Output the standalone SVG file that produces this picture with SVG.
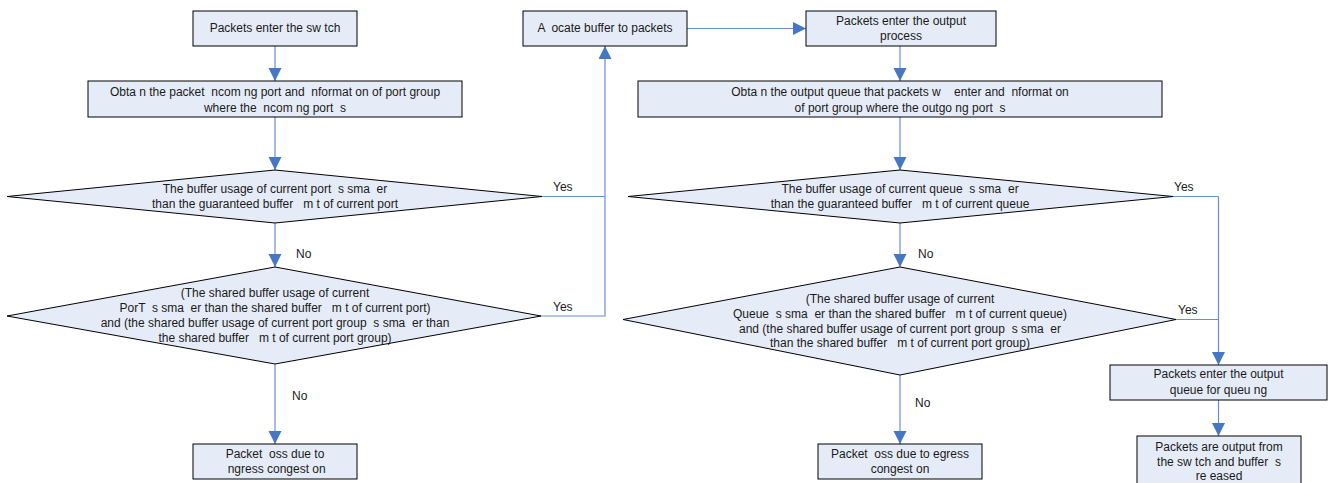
<svg xmlns="http://www.w3.org/2000/svg" width="1334" height="483" viewBox="0 0 1334 483" xml:space="preserve">
<style>
text{white-space:pre}
.n{fill:#E6ECF7;stroke:#000;stroke-width:1}
.t{font-family:"Liberation Sans",Arial,sans-serif;font-size:12px;fill:#1a1a1a;text-anchor:middle}
.l{font-family:"Liberation Sans",Arial,sans-serif;font-size:12px;fill:#1a1a1a}
.c{fill:none;stroke:#6690D0;stroke-width:1.2}
</style>
<defs>
<marker id="a" markerUnits="userSpaceOnUse" markerWidth="14" markerHeight="14" refX="13" refY="6.5" orient="auto"><path d="M0,0 L13,6.5 L0,13 z" fill="#4677C4"/></marker>
</defs>
<rect width="1334" height="483" fill="#fff"/>
<g id="connectors">
<path class="c" d="M275,46 V81" marker-end="url(#a)"/>
<path class="c" d="M275,117 V170" marker-end="url(#a)"/>
<path class="c" d="M275,222 V267" marker-end="url(#a)"/>
<path class="c" d="M275,364 V444" marker-end="url(#a)"/>
<path class="c" d="M542,196.5 H605 M541,316 H605 V46" marker-end="url(#a)"/>
<path class="c" d="M687,28.5 H806" marker-end="url(#a)"/>
<path class="c" d="M900,46 V81" marker-end="url(#a)"/>
<path class="c" d="M900,117 V170" marker-end="url(#a)"/>
<path class="c" d="M900,222 V267" marker-end="url(#a)"/>
<path class="c" d="M900,375 V444" marker-end="url(#a)"/>
<path class="c" d="M1173,196.5 H1218.5 M1176,319.5 H1218.5 M1218.5,196.5 V365" marker-end="url(#a)"/>
<path class="c" d="M1218.5,400 V436" marker-end="url(#a)"/>
</g>
<g id="labels">
<text class="l" x="553" y="191">Yes</text>
<text class="l" x="553" y="311">Yes</text>
<text class="l" x="296" y="258">No</text>
<text class="l" x="292" y="400">No</text>
<text class="l" x="1174" y="191">Yes</text>
<text class="l" x="1178" y="314">Yes</text>
<text class="l" x="918" y="258">No</text>
<text class="l" x="915" y="407">No</text>
</g>
<g id="start">
<rect class="n" x="193" y="11" width="164" height="35"/>
<text class="t" x="275" y="32">Packets enter the sw tch</text>
</g>
<g id="obtain-in">
<rect class="n" x="88" y="81" width="374" height="36"/>
<text class="t" x="275" y="96">Obta n the packet  ncom ng port and  nformat on of port group</text>
<text class="t" x="275" y="112">where the  ncom ng port  s</text>
</g>
<g id="dec-port">
<polygon class="n" points="275,170 542,196.5 275,223 7,196.5"/>
<text class="t" x="275" y="193">The buffer usage of current port  s sma  er</text>
<text class="t" x="275" y="208">than the guaranteed buffer   m t of current port</text>
</g>
<g id="dec-port-shared">
<polygon class="n" points="275,267 541,316 275,364 7,316"/>
<text class="t" x="275" y="297">(The shared buffer usage of current</text>
<text class="t" x="275" y="312">PorT  s sma  er than the shared buffer   m t of current port)</text>
<text class="t" x="275" y="327">and (the shared buffer usage of current port group  s sma  er than</text>
<text class="t" x="275" y="342">the shared buffer   m t of current port group)</text>
</g>
<g id="loss-in">
<rect class="n" x="193" y="444" width="164" height="35"/>
<text class="t" x="275" y="458">Packet  oss due to</text>
<text class="t" x="275" y="473"> ngress congest on</text>
</g>
<g id="allocate">
<rect class="n" x="523" y="11" width="164" height="35"/>
<text class="t" x="605" y="32">A  ocate buffer to packets</text>
</g>
<g id="enter-out">
<rect class="n" x="806" y="11" width="190" height="35"/>
<text class="t" x="901" y="25">Packets enter the output</text>
<text class="t" x="901" y="40">process</text>
</g>
<g id="obtain-out">
<rect class="n" x="638" y="81" width="524" height="36"/>
<text class="t" x="900" y="96">Obta n the output queue that packets w    enter and  nformat on</text>
<text class="t" x="900" y="112">of port group where the outgo ng port  s</text>
</g>
<g id="dec-queue">
<polygon class="n" points="900,170 1173,196.5 900,223 628,196.5"/>
<text class="t" x="900" y="193">The buffer usage of current queue  s sma  er</text>
<text class="t" x="900" y="208">than the guaranteed buffer   m t of current queue</text>
</g>
<g id="dec-queue-shared">
<polygon class="n" points="900,267 1176,319.5 900,375 623,319.5"/>
<text class="t" x="900" y="303">(The shared buffer usage of current</text>
<text class="t" x="900" y="318">Queue  s sma  er than the shared buffer   m t of current queue)</text>
<text class="t" x="900" y="333">and (the shared buffer usage of current port group  s sma  er</text>
<text class="t" x="900" y="347">than the shared buffer   m t of current port group)</text>
</g>
<g id="loss-out">
<rect class="n" x="818" y="444" width="164" height="35"/>
<text class="t" x="900" y="458">Packet  oss due to egress</text>
<text class="t" x="900" y="473">congest on</text>
</g>
<g id="queue">
<rect class="n" x="1110" y="365" width="217" height="35"/>
<text class="t" x="1218.5" y="378">Packets enter the output</text>
<text class="t" x="1218.5" y="394">queue for queu ng</text>
</g>
<g id="output">
<rect class="n" x="1137" y="436" width="164" height="54"/>
<text class="t" x="1219" y="451">Packets are output from</text>
<text class="t" x="1219" y="466">the sw tch and buffer  s</text>
<text class="t" x="1219" y="480">re eased</text>
</g>
</svg>
